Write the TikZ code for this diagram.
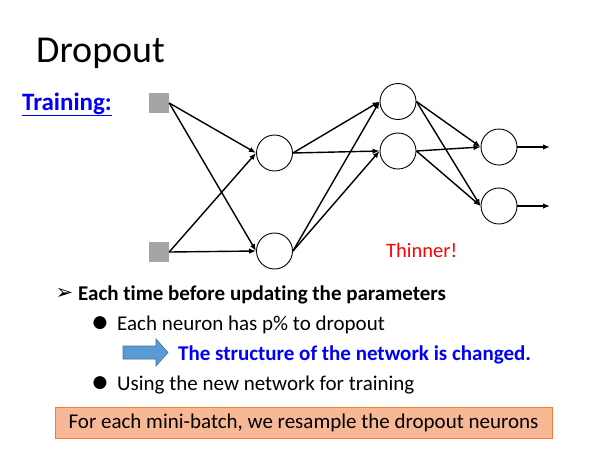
\documentclass[tikz,border=0pt]{standalone}
\usepackage{fontspec}
\setmainfont{Carlito}[Ligatures=NoCommon]
\newfontfamily\symfont{DejaVu Sans}
\usepackage{xcolor}
\usetikzlibrary{positioning, arrows.meta}

\definecolor{slideblue}{RGB}{0,0,245}
\definecolor{arrowblue}{RGB}{91,155,213}
\definecolor{arrowedge}{RGB}{65,113,156}
\definecolor{boxfill}{RGB}{248,184,150}
\definecolor{boxedge}{RGB}{237,125,49}
\definecolor{inputgray}{RGB}{165,165,165}

\begin{document}
\begin{tikzpicture}[x=1pt,y=-1pt,
    neuron/.style={circle, draw, line width=0.9pt, minimum size=36pt, inner sep=0pt},
    input/.style={rectangle, fill=inputgray, minimum size=20pt, inner sep=0pt},
    link/.style={-{Latex[length=7pt,width=5.5pt]}, line width=1.4pt},
    txt/.style={anchor=base west, inner sep=0pt, font=\fontsize{21}{25}\selectfont}]
       \useasboundingbox (0,0) rectangle (593,448);

       \node[txt, font=\fontsize{38}{42}\selectfont] (title) at (36,62) {Dropout};
       \node[txt, text=slideblue, font=\fontsize{25}{29}\selectfont\bfseries] (train) at (22,110) {\underline{Training:}};

       % network
       \node[input] (x1) at (159,103) {};
       \node[input] (x2) at (159,252) {};
       \node[neuron] (a1) at (274.5,153) {};
       \node[neuron] (a2) at (274.5,251) {};
       \node[neuron] (b1) at (398,101.5) {};
       \node[neuron] (b2) at (398,151) {};
       \node[neuron] (y1) at (499,147) {};
       \node[neuron] (y2) at (499,206) {};
       \coordinate (out1) at (550,147);
       \coordinate (out2) at (550,206);

       \path[link]
       (x1.east) edge (a1.west)
                 edge (a2.west)
       (x2.east) edge (a1.west)
                 edge (a2.west)
       (a1.east) edge (b1.west)
                 edge (b2.west)
       (a2.east) edge (b1.west)
                 edge (b2.west)
       (b1.east) edge (y1.west)
                 edge (y2.west)
       (b2.east) edge (y1.west)
                 edge (y2.west)
       (y1.east) edge (out1)
       (y2.east) edge (out2);

       \node[txt, text=red, font=\fontsize{20.5}{24}\selectfont] (thin) at (386,257) {Thinner!};

       % bullets
       \node[font=\symfont\fontsize{21}{24}\selectfont] (tick) at (64.5,294) {➢};
       \node[txt, font=\fontsize{21}{25}\selectfont\bfseries] (l1) at (78,300) {Each time before updating the parameters};
       \node[font=\symfont\fontsize{17}{20}\selectfont] (dot1) at (100,323) {●};
       \node[txt] (l2) at (117,330) {Each neuron has p\% to dropout};
       \draw[arrowedge, fill=arrowblue, line width=0.6pt]
         (123,346) -- (156,346) -- (156,339) -- (168,352.5) -- (156,366) -- (156,359) -- (123,359) -- cycle;
       \node[txt, text=slideblue, font=\fontsize{21}{25}\selectfont\bfseries] (l3) at (178,360) {The structure of the network is changed.};
       \node[font=\symfont\fontsize{17}{20}\selectfont] (dot2) at (100,383) {●};
       \node[txt] (l4) at (117,390) {Using the new network for training};

       \node[draw=boxedge, fill=boxfill, line width=1pt, minimum width=497pt, minimum height=31pt,
             inner sep=0pt, font=\fontsize{21}{25}\selectfont] (box) at (303.5,422.5)
             {For each mini-batch, we resample the dropout neurons};
\end{tikzpicture}
\end{document}
